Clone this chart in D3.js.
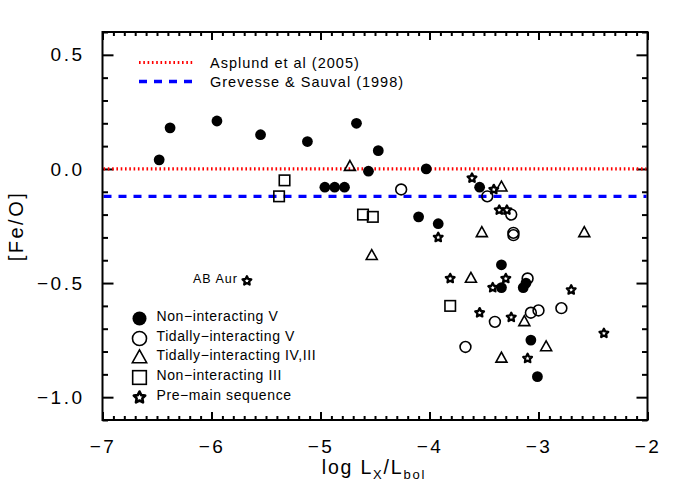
<!DOCTYPE html>
<html>
<head>
<meta charset="utf-8">
<script src="https://cdn.jsdelivr.net/npm/d3@7"></script>
<style>
  html, body { margin: 0; padding: 0; background: #fff; }
  svg text { font-family: "Liberation Sans", Arial, sans-serif; fill: #000; }
</style>
</head>
<body>
<svg id="chart" width="678" height="485"></svg>
<script>
// ---- data ----
const nonInteractingV_x = [-6.48, -6.38, -5.95, -5.55, -5.12, -4.67, -4.47, -4.56, -4.03, -4.96, -4.87, -4.78, -3.54, -4.10, -3.92, -3.34, -3.34, -3.14, -3.115, -3.07, -3.01];
const nonInteractingV_y = [0.04, 0.18, 0.21, 0.15, 0.12, 0.20, 0.08, -0.01, 0.0, -0.08, -0.08, -0.08, -0.08, -0.21, -0.24, -0.42, -0.52, -0.52, -0.50, -0.75, -0.91];

const tidalV_x = [-4.26, -3.47, -3.25, -3.23, -3.23, -3.10, -3.40, -3.07, -3.00, -2.79, -3.67];
const tidalV_y = [-0.09, -0.12, -0.20, -0.28, -0.29, -0.48, -0.67, -0.63, -0.62, -0.61, -0.78];

const tidalIV_x = [-4.73, -3.34, -3.52, -4.53, -2.58, -3.62, -3.13, -2.93, -3.34];
const tidalIV_y = [0.01, -0.08, -0.28, -0.38, -0.28, -0.48, -0.67, -0.78, -0.83];

const nonInteractingIII_x = [-5.33, -5.38, -4.61, -4.52, -3.81];
const nonInteractingIII_y = [-0.05, -0.12, -0.20, -0.21, -0.60];

const pms_x = [-3.61, -3.41, -3.36, -3.29, -3.92, -3.81, -3.30, -3.42, -2.70, -3.54, -3.25, -2.40, -3.10, -5.675];
const pms_y = [-0.04, -0.09, -0.18, -0.18, -0.30, -0.48, -0.48, -0.52, -0.53, -0.63, -0.65, -0.72, -0.83, -0.49];

const xTickLabels = [-7, -6, -5, -4, -3, -2];
const yTickLabels = [0.5, 0.0, -0.5, -1.0];
const refLineNames = ["Asplund et al (2005)", "Grevesse & Sauval (1998)"];
const refLineValues = [0.0, -0.12];
const legendNames = ["Non\u2212interacting V", "Tidally\u2212interacting V", "Tidally\u2212interacting IV,III", "Non\u2212interacting III", "Pre\u2212main sequence"];

// ---- layout ----
const L = 102.5, R = 647.5, T = 32, B = 420;
const x = d3.scaleLinear().domain([-7, -2]).range([L, R]);
const y = d3.scaleLinear().domain([-1.1, 0.6]).range([B, T]);
const svg = d3.select("#chart");

// minor ticks
const xMinor = d3.range(-70, -19).map(d => d / 10).filter(d => Math.abs(d - Math.round(d)) > 1e-6);
const yMinor = d3.range(-11, 7).map(d => d / 10).filter(d => Math.abs(d * 2 - Math.round(d * 2)) > 1e-6);

function styleAxis(g) {
  g.select(".domain").remove();
  g.selectAll("line").attr("stroke", "#000").attr("stroke-width", 2);
}
const fmt = d3.format(".1f");
// bottom
svg.append("g").attr("transform", `translate(0,${B})`)
  .call(d3.axisBottom(x).tickValues(xTickLabels).tickSize(-8).tickPadding(20).tickFormat(d3.format("d")))
  .call(styleAxis)
  .call(g => g.selectAll("text").attr("font-size", 19).attr("letter-spacing", 2.5).attr("dy", "0.71em"));
svg.append("g").attr("transform", `translate(0,${B})`)
  .call(d3.axisBottom(x).tickValues(xMinor).tickSize(-4).tickFormat(""))
  .call(styleAxis);
// top
svg.append("g").attr("transform", `translate(0,${T})`)
  .call(d3.axisTop(x).tickValues(xTickLabels).tickSize(-8).tickFormat(""))
  .call(styleAxis);
svg.append("g").attr("transform", `translate(0,${T})`)
  .call(d3.axisTop(x).tickValues(xMinor).tickSize(-4).tickFormat(""))
  .call(styleAxis);
// left
svg.append("g").attr("transform", `translate(${L},0)`)
  .call(d3.axisLeft(y).tickValues(yTickLabels).tickSize(-11).tickPadding(18).tickFormat(fmt))
  .call(styleAxis)
  .call(g => g.selectAll("text").attr("font-size", 19).attr("letter-spacing", 2.5));
svg.append("g").attr("transform", `translate(${L},0)`)
  .call(d3.axisLeft(y).tickValues(yMinor).tickSize(-5.5).tickFormat(""))
  .call(styleAxis);
// right
svg.append("g").attr("transform", `translate(${R},0)`)
  .call(d3.axisRight(y).tickValues(yTickLabels).tickSize(-11).tickFormat(""))
  .call(styleAxis);
svg.append("g").attr("transform", `translate(${R},0)`)
  .call(d3.axisRight(y).tickValues(yMinor).tickSize(-5.5).tickFormat(""))
  .call(styleAxis);

// ---- reference lines ----
const refStyles = [
  { color: "#ff0000", dash: "1.6,2.7", width: 3.2 },
  { color: "#0000ff", dash: "8,7", width: 3.3 }
];
refLineValues.forEach((v, i) => {
  svg.append("line")
    .attr("x1", L + 1).attr("x2", R - 1)
    .attr("y1", y(v)).attr("y2", y(v))
    .attr("stroke", refStyles[i].color).attr("stroke-width", refStyles[i].width)
    .attr("stroke-dasharray", refStyles[i].dash);
});
// top legend
const refLegY = [62.5, 81.5];
refLineNames.forEach((name, i) => {
  svg.append("line")
    .attr("x1", 139).attr("x2", 194)
    .attr("y1", refLegY[i]).attr("y2", refLegY[i])
    .attr("stroke", refStyles[i].color).attr("stroke-width", refStyles[i].width)
    .attr("stroke-dasharray", refStyles[i].dash);
  svg.append("text").attr("x", 210).attr("y", refLegY[i] + 5)
    .attr("font-size", 14.5).attr("letter-spacing", 1.0).text(name);
});

// ---- marker drawing ----
function starPath(ro, ri) {
  const pts = [];
  for (let k = 0; k < 10; k++) {
    const r = k % 2 === 0 ? ro : ri;
    const a = -Math.PI / 2 + k * Math.PI / 5;
    pts.push([r * Math.cos(a), r * Math.sin(a)]);
  }
  return "M" + pts.map(p => p.join(",")).join("L") + "Z";
}
function trianglePath(s) {
  const h = s * 0.9;
  return `M0,${-h * 0.62}L${s / 2},${h * 0.38}L${-s / 2},${h * 0.38}Z`;
}
function drawMarker(g, type, cx, cy, k) {
  k = k || 1;
  if (type === 0) {
    g.append("circle").attr("cx", cx).attr("cy", cy).attr("r", 5.4 * k).attr("fill", "#000");
  } else if (type === 1) {
    g.append("circle").attr("cx", cx).attr("cy", cy).attr("r", 5.4 * k)
      .attr("fill", "none").attr("stroke", "#000").attr("stroke-width", 1.6);
  } else if (type === 2) {
    g.append("path").attr("d", trianglePath(11 * k)).attr("transform", `translate(${cx},${cy})`)
      .attr("fill", "none").attr("stroke", "#000").attr("stroke-width", 1.6).attr("stroke-linejoin", "miter");
  } else if (type === 3) {
    const s = 10.5 * k;
    g.append("rect").attr("x", cx - s / 2).attr("y", cy - s / 2).attr("width", s).attr("height", s)
      .attr("fill", "none").attr("stroke", "#000").attr("stroke-width", 1.6);
  } else {
    g.append("path").attr("d", starPath(4.6 * k, 2.3 * k)).attr("transform", `translate(${cx},${cy})`)
      .attr("fill", "#fff").attr("stroke", "#000").attr("stroke-width", 2.3 * Math.sqrt(k)).attr("stroke-linejoin", "round");
  }
}

const series = [
  [nonInteractingV_x, nonInteractingV_y],
  [tidalV_x, tidalV_y],
  [tidalIV_x, tidalIV_y],
  [nonInteractingIII_x, nonInteractingIII_y],
  [pms_x, pms_y]
];
const markG = svg.append("g");
series.forEach((s, t) => {
  s[0].forEach((xv, i) => drawMarker(markG, t, x(xv), y(s[1][i])));
});

// AB Aur label
svg.append("text").attr("x", x(-5.675) - 9).attr("y", y(-0.49) + 2)
  .attr("text-anchor", "end").attr("font-size", 12.5).attr("letter-spacing", 1).text("AB Aur");

// ---- bottom-left legend ----
const legG = svg.append("g");
const legRowsY = [318.5, 338.5, 357.8, 377.5, 397.5];
legendNames.forEach((name, t) => {
  drawMarker(legG, t, 139.5, legRowsY[t], 1.3);
  legG.append("text").attr("x", 156.5).attr("y", legRowsY[t] + 2)
    .attr("font-size", 14).attr("letter-spacing", 0.6).text(name);
});

// ---- frame ----
svg.append("rect").attr("x", L).attr("y", T).attr("width", R - L).attr("height", B - T)
  .attr("fill", "none").attr("stroke", "#000").attr("stroke-width", 2);

// ---- axis titles ----
const xt = svg.append("text").attr("x", 374).attr("y", 474).attr("text-anchor", "middle")
  .attr("font-size", 19.5).attr("letter-spacing", 1.8);
xt.append("tspan").text("log L");
xt.append("tspan").attr("font-size", 13).attr("dy", 5).text("X");
xt.append("tspan").attr("dy", -5).text("/L");
xt.append("tspan").attr("font-size", 13).attr("dy", 5).text("bol");

svg.append("text").attr("transform", "translate(23,226) rotate(-90)")
  .attr("text-anchor", "middle").attr("font-size", 20).attr("letter-spacing", 2.5).text("[Fe/O]");
</script>
</body>
</html>
